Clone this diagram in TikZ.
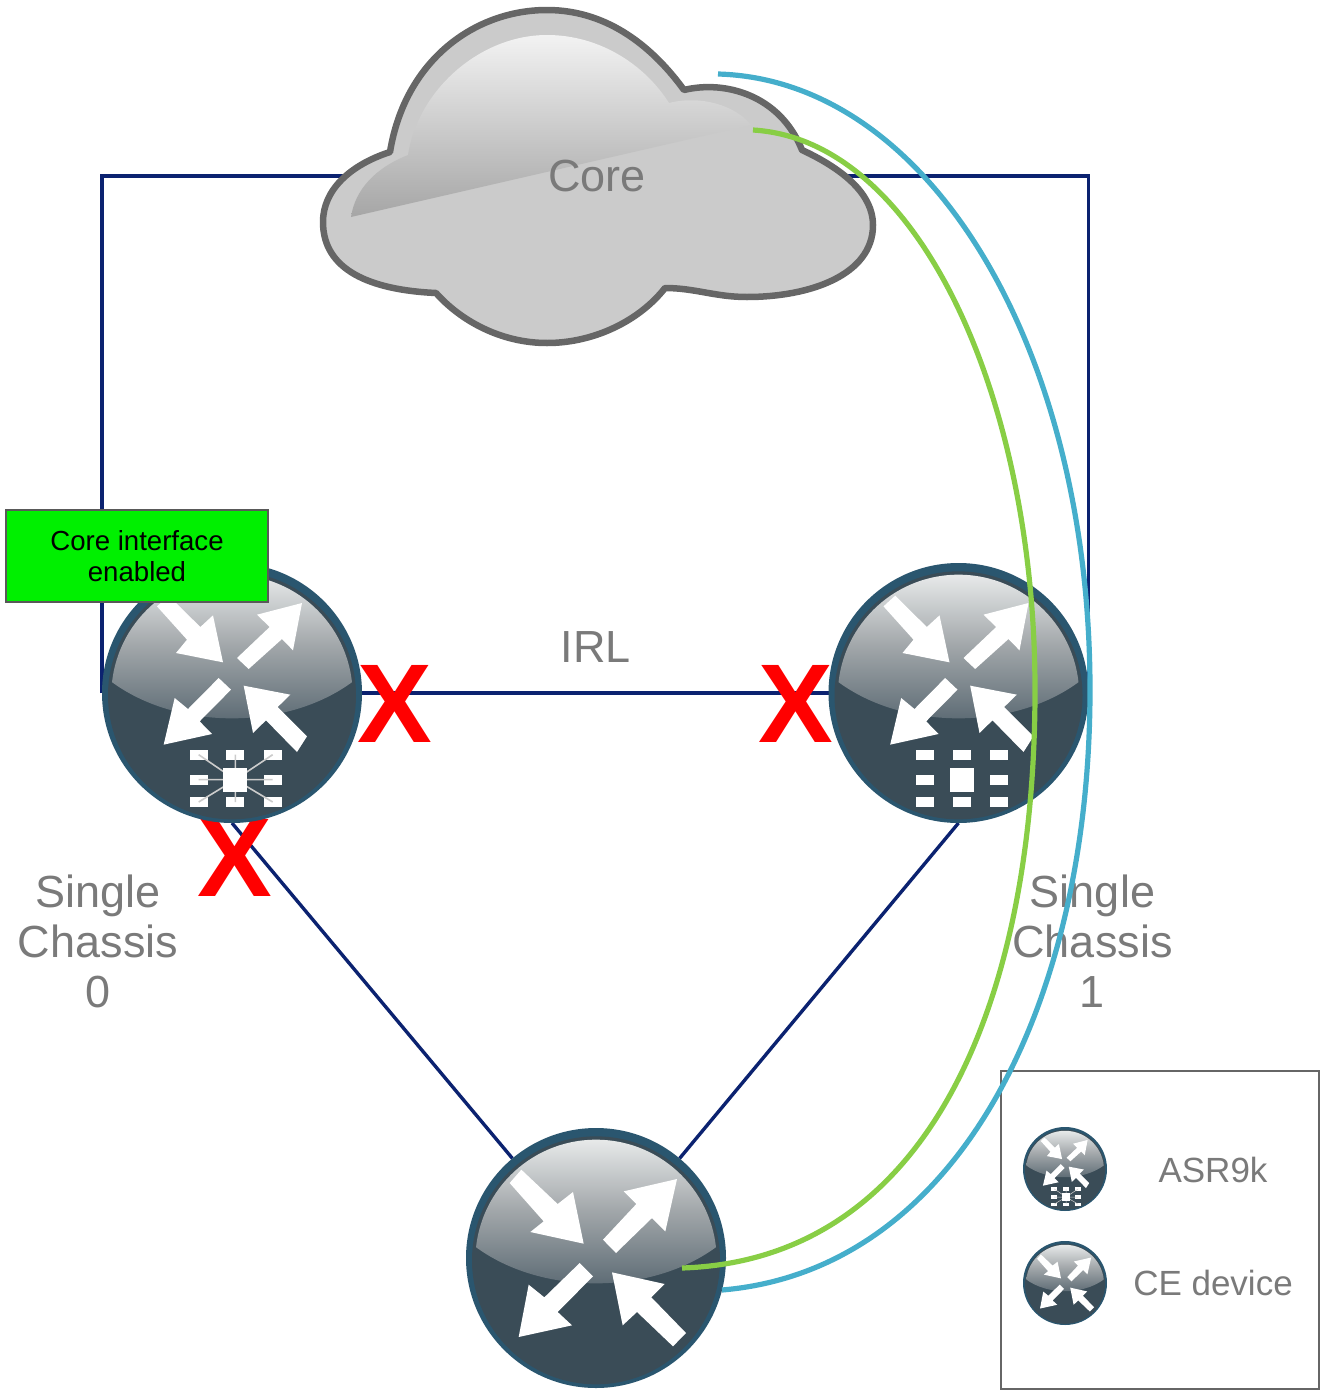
\documentclass[tikz,border=0pt]{standalone}
\usepackage{fontspec}
\setmainfont{Liberation Sans}
\pgfdeclarelayer{back}
\pgfdeclarelayer{front}
\pgfsetlayers{back,main,front}
\definecolor{navyline}{HTML}{0B2270}
\definecolor{bluecurve}{HTML}{45AECB}
\definecolor{greencurve}{HTML}{88CE45}
\definecolor{ringcol}{HTML}{2A566F}
\definecolor{bodycol}{HTML}{3A4C57}
\definecolor{labelcol}{HTML}{7A7A7A}
\definecolor{cloudfill}{HTML}{CBCBCB}
\definecolor{cloudedge}{HTML}{666666}
\definecolor{boxgreen}{HTML}{00F000}
\definecolor{lenstop}{HTML}{ECEEEE}
\definecolor{lensmid}{HTML}{A3A8AB}
\definecolor{lensbot}{HTML}{5F6D76}
\tikzset{
  link/.style={draw=navyline,line width=3.4pt},
  routernode/.style={circle,inner sep=0pt,outer sep=0pt,minimum size=#1},
  lbl/.style={text=labelcol,align=center,inner sep=0pt,font=\fontsize{45}{50}\selectfont},
  smalllbl/.style={text=labelcol,inner sep=0pt,font=\fontsize{35}{40}\selectfont},
  crossmark/.style={text=red,inner sep=0pt,font=\fontsize{112}{112}\selectfont\bfseries},
  note/.style={draw=black!65,fill=boxgreen,line width=1.4pt,align=center,text=black,inner sep=0pt,
    minimum width=262pt,minimum height=92pt,font=\fontsize{27.6}{30.5}\selectfont},
  whitearrow/.style={fill=white,draw=none},
  curveblue/.style={draw=bluecurve,line width=5.2pt},
  curvegreen/.style={draw=greencurve,line width=5.2pt}
}
% #1 node name, #2 radius in px, #3: 0 plain, 1 star chip, 2 grid chip
\newcommand{\routerart}[3]{%
  \pgfmathsetmacro{\rscale}{#2/390}%
  \pgfmathsetmacro{\rline}{#2/130*1.6}%
  \begin{scope}[shift={(#1.center)},x=\rscale pt,y=-\rscale pt]
    \fill[ringcol] (0,0) circle (390);
    \fill[bodycol] (0,7) circle (372);
    \begin{scope}
      \clip (0,7) circle (362);
      \shade[top color=lenstop,bottom color=lensbot,middle color=lensmid]
        (-370,-40) .. controls (-260,45) and (-120,76) .. (0,76)
        .. controls (120,76) and (260,45) .. (370,-40) -- (370,-370) -- (-370,-370) -- cycle;
    \end{scope}
    \ifcase#3\relax
      \fill[whitearrow] (-259,-225) -- (-224,-265) -- (-115,-162) -- (-69,-198) -- (-37,-43) -- (-197,-78) -- (-157,-110) -- cycle;
      \fill[whitearrow] (21,-55) -- (121,-162) -- (83,-200) -- (243,-237) -- (208,-80) -- (168,-120) -- (60,-15) -- cycle;
      \fill[whitearrow] (-49,15) -- (-155,118) -- (-202,80) -- (-232,237) -- (-72,202) -- (-115,162) -- (-9,55) -- cycle;
      \fill[whitearrow] (48,43) -- (206,78) -- (166,118) -- (270,225) -- (231,265) -- (123,162) -- (80,202) -- cycle;
    \else
      \fill[whitearrow] (-225,-260) -- (-190,-292) -- (-95,-198) -- (-57,-233) -- (-27,-92) -- (-168,-120) -- (-135,-160) -- cycle;
      \fill[whitearrow] (15,-105) -- (113,-198) -- (75,-235) -- (210,-270) -- (183,-128) -- (150,-162) -- (50,-72) -- cycle;
      \fill[whitearrow] (-40,-45) -- (-132,48) -- (-172,15) -- (-205,155) -- (-60,123) -- (-97,85) -- (-3,-10) -- cycle;
      \fill[whitearrow] (35,-22) -- (175,5) -- (137,42) -- (225,130) -- (195,177) -- (102,82) -- (63,120) -- cycle;
      \foreach \gx in {-100,10,122}{\foreach \gy in {185,260,327}{
        \ifnum\gx=10 \ifnum\gy=260 \else
          \fill[white] (\gx-27,\gy-15) rectangle (\gx+27,\gy+15);
        \fi\else
          \fill[white] (\gx-27,\gy-15) rectangle (\gx+27,\gy+15);
        \fi}}
      \ifnum#3=1\relax
        \draw[white!80!black,line width=\rline pt]
          (10,260) -- (-100,185) (10,260) -- (10,185) (10,260) -- (122,185)
          (10,260) -- (-100,260) (10,260) -- (122,260)
          (10,260) -- (-100,327) (10,260) -- (10,327) (10,260) -- (122,327);
      \fi
      \fill[white] (-26,224) rectangle (46,296);
    \fi
  \end{scope}%
}
\begin{document}
\begin{tikzpicture}[x=1pt,y=-1pt]
  \useasboundingbox (0,0) rectangle (1330,1392);
  % cloud
  \fill[cloudfill] (390,152) .. controls (405,60) and (475,10) .. (547,10)
    .. controls (610,10) and (655,50) .. (684,90)
    .. controls (725,80) and (780,95) .. (802,150)
    .. controls (845,170) and (873,195) .. (873,225)
    .. controls (873,275) and (810,297) .. (747,297)
    .. controls (715,297) and (695,288) .. (665,288)
    .. controls (640,320) and (595,343) .. (547,343)
    .. controls (500,343) and (460,320) .. (436,293)
    .. controls (370,290) and (323,270) .. (323,222)
    .. controls (323,190) and (350,165) .. (390,152) -- cycle;
  \shade[top color=black!5,bottom color=black!35]
    (351,217) .. controls (355,190) and (375,168) .. (408,155)
    .. controls (418,90) and (480,35) .. (547,35)
    .. controls (600,35) and (645,65) .. (669,103)
    .. controls (700,95) and (735,105) .. (751,125) -- cycle;
  \draw[cloudedge,line width=6.5pt,line join=round] (390,152) .. controls (405,60) and (475,10) .. (547,10)
    .. controls (610,10) and (655,50) .. (684,90)
    .. controls (725,80) and (780,95) .. (802,150)
    .. controls (845,170) and (873,195) .. (873,225)
    .. controls (873,275) and (810,297) .. (747,297)
    .. controls (715,297) and (695,288) .. (665,288)
    .. controls (640,320) and (595,343) .. (547,343)
    .. controls (500,343) and (460,320) .. (436,293)
    .. controls (370,290) and (323,270) .. (323,222)
    .. controls (323,190) and (350,165) .. (390,152) -- cycle;
  \node[lbl] (core) at (597,176) {Core};
  % crosses
  \node[crossmark] (x1) at (395,704) {X};
  \node[crossmark] (x2) at (796,704) {X};
  \node[crossmark] (x3) at (235,858) {X};
  % routers
  \node[routernode=260pt] (r0) at (232,693) {};
  \node[routernode=260pt] (r1) at (958.5,693) {};
  \node[routernode=260pt] (ce) at (596,1258) {};
  \routerart{r0}{130}{1}
  \routerart{r1}{130}{2}
  \routerart{ce}{130}{0}
  % labels
  \node[lbl] (irl) at (596,647) {IRL};
  \node[lbl] (s0) at (98,941.5) {Single\\Chassis\\0};
  \node[lbl] (s1) at (1092.5,941.5) {Single\\Chassis\\1};
  % legend
  \node[draw=cloudedge,line width=2.8pt,minimum width=318pt,minimum height=318pt,inner sep=0pt] (legend) at (1160,1230) {};
  \node[routernode=84pt] (lg0) at (1065,1169) {};
  \node[routernode=84pt] (lg1) at (1065,1283) {};
  \routerart{lg0}{42}{1}
  \routerart{lg1}{42}{0}
  \node[smalllbl] (asr) at (1213,1170) {ASR9k};
  \node[smalllbl] (cedev) at (1213,1283) {CE device};
  % connectors below everything
  \begin{pgfonlayer}{back}
    \draw[link] (r0.center) -- (r1.center);
    \draw[link] (r0.south) -- (ce.130);
    \draw[link] (r1.south) -- (ce.50);
    \draw[link,line join=miter] (r0.west) |- (core.center);
    \draw[link,line join=miter] (r1.east) |- (core.center);
  \end{pgfonlayer}
  % curves and note on top
  \begin{pgfonlayer}{front}
    \coordinate (blueA) at (718,74);
    \coordinate (blueM) at (1090,690);
    \coordinate (blueB) at (722,1290);
    \coordinate (greenA) at (753,130);
    \coordinate (greenM) at (1035,690);
    \coordinate (greenB) at (682,1268);
    \draw[curveblue] (blueA) .. controls (930,80) and (1090,350) .. (blueM)
      .. controls (1090,1000) and (960,1270) .. (blueB);
    \draw[curvegreen] (greenA) .. controls (920,140) and (1035,400) .. (greenM)
      .. controls (1035,1000) and (930,1260) .. (greenB);
    \node[note] (enabled) at (137,556) {Core interface\\enabled};
  \end{pgfonlayer}
\end{tikzpicture}
\end{document}
